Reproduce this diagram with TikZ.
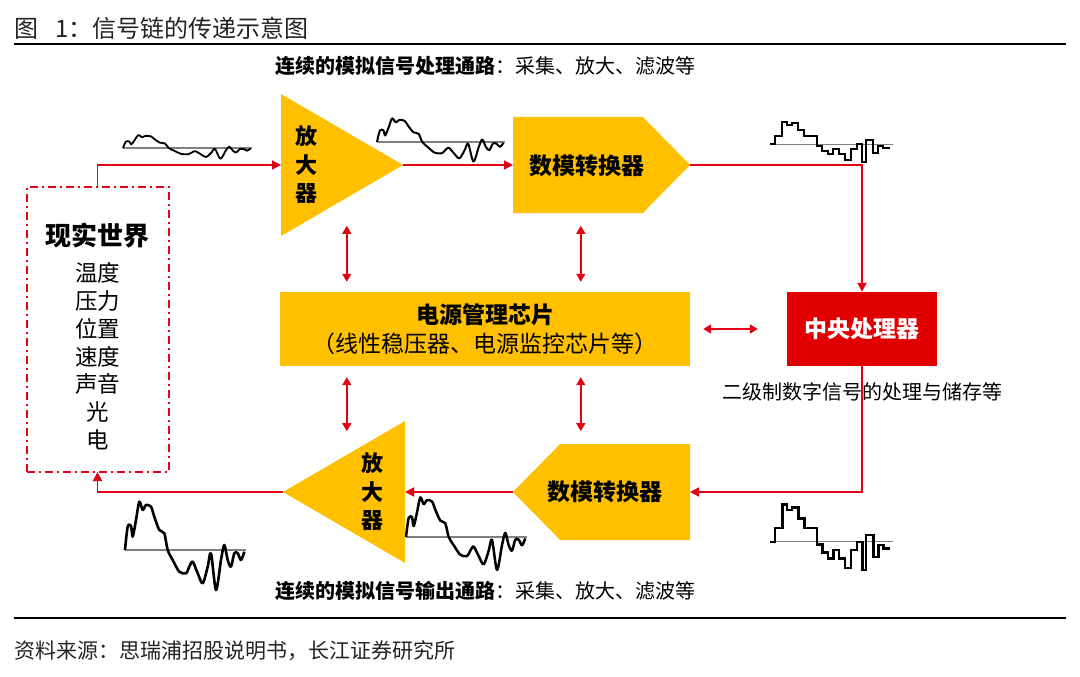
\documentclass[tikz,border=0pt]{standalone}
\usepackage{fontspec}
\setmainfont{Noto Sans CJK SC}
\usetikzlibrary{shapes.geometric, shapes.symbols, arrows.meta, positioning, calc}
\definecolor{ampgold}{RGB}{255, 192, 0}
\definecolor{cpured}{RGB}{224, 0, 0}
\definecolor{sigred}{RGB}{228, 0, 22}
\definecolor{inkgray}{RGB}{35, 35, 35}

\tikzset{
  amp/.style={isosceles triangle, isosceles triangle stretches, fill=ampgold,
    inner sep=0pt, outer sep=0pt, minimum width=142pt, minimum height=122pt},
  dac/.style={signal, fill=ampgold, inner sep=0pt, outer sep=0pt,
    minimum width=177pt, minimum height=96pt, signal pointer angle=91},
  blocktext/.style={font=\fontsize{23}{28}\selectfont\bfseries, inner sep=0pt, align=center},
  worldbox/.style={draw=sigred, line width=2pt, dash pattern=on 8pt off 4pt on 2pt off 4pt,
    inner sep=0pt, outer sep=0pt},
  sig/.style={draw=sigred, line width=1.8pt, -{Triangle[length=9pt,width=9pt]}},
  dbl/.style={draw=sigred, line width=1.5pt, {Triangle[length=8pt,width=9pt]}-{Triangle[length=8pt,width=9pt]}},
  wavebase/.style={line width=1.2pt, gray},
  note/.style={font=\fontsize{20}{24}\selectfont, inner sep=0pt},
}

% analog wave: x, baseline y, xscale, yscale, line width
\newcommand\anawave[5]{%
  \begin{scope}[shift={(#1,#2)}, xscale=#3, yscale=-#4]
    \draw[wavebase] (0,0) -- (121,0);
    \draw[line width=#5, line join=round] plot[smooth, tension=0.5] coordinates {
      (0,0) (2.7,23.3) (6,24) (7.7,13.3) (11,30) (14.3,48.3) (17.7,40) (21,45)
      (26,43.3) (29.3,33.3) (34.3,20) (39.3,16.7) (42.7,0) (47.7,-10) (54.3,-21.7)
      (61,-23.3) (64.3,-16.7) (67.7,-11.7) (72.7,-23.3) (77.7,-33.3) (82.7,-16.7)
      (86,-3.3) (91,-40) (96,-10) (99.3,5) (102.7,-10) (106,-16.7) (109.3,-3.3)
      (112.7,-3.3) (116,-10) (119.3,-1.7)};
  \end{scope}}

% sampled (stair) wave: x, baseline y, yscale, line width
\newcommand\stepwave[4]{%
  \begin{scope}[shift={(#1,#2)}, yscale=-#3]
    \draw[wavebase] (0,0) -- (123,0);
    \draw[line width=#4, line join=miter] plot coordinates {
      (0,0) (5,0) (5,14) (12.3,14) (12.3,37.3) (16.7,37.3) (16.7,31.7) (21.7,31.7)
      (21.7,34.3) (28.3,34.3) (28.3,23.3) (34.3,23.3) (34.3,14) (46.7,14) (46.7,-2.7)
      (52.3,-2.7) (52.3,-10.7) (57.7,-10.7) (57.7,-16.7) (63.3,-16.7) (63.3,-8.3)
      (69,-8.3) (69,-16.7) (75,-16.7) (75,-26) (81,-26) (81,-8.3) (86.7,-8.3)
      (86.7,0) (92.3,0) (92.3,-28.3) (96,-28.3) (96,6.7) (103.3,6.7) (103.3,-15)
      (108.3,-15) (108.3,-3.3) (113.3,-3.3) (113.3,-6.7) (120,-6.7)};
  \end{scope}}

\begin{document}
\begin{tikzpicture}[x=1pt, y=-1pt]
  \useasboundingbox (0,0) rectangle (1080,677);

  % Title and rules
  \node[anchor=west, inner sep=0pt, text=inkgray, font=\fontsize{24}{28}\selectfont] (title)
    at (14,28) {图\hspace{17pt}1：信号链的传递示意图};
  \draw[line width=2.5pt] (14,44) -- (1066,44);
  \draw[line width=2.5pt] (14,618) -- (1066,618);
  \node[anchor=west, inner sep=0pt, text=inkgray, font=\fontsize{21}{25}\selectfont] (source)
    at (14,651) {资料来源：思瑞浦招股说明书，长江证券研究所};

  % Path captions
  \node[note, anchor=west] (inpath) at (275,66) {\textbf{连续的模拟信号处理通路}：采集、放大、滤波等};
  \node[note, anchor=west] (outpath) at (275,591) {\textbf{连续的模拟信号输出通路}：采集、放大、滤波等};

  % Real world
  \node[worldbox, minimum width=142pt, minimum height=285pt] (world) at (97.5,329.5) {};
  \node[anchor=north, align=center, inner sep=0pt, font=\fontsize{22.5}{27.8}\selectfont] (worldtxt)
    at (97.5,223) {{\fontsize{26}{30}\selectfont\bfseries 现实世界}\\[8pt]温度\\压力\\位置\\速度\\声音\\光\\电};

  % Input chain
  \node[amp, anchor=lower side] (amp1) at (281,165) {};
  \node[blocktext, font=\fontsize{22}{28.5}\selectfont\bfseries] (amp1txt) at (306,165) {放\\大\\器};
  \node[dac, signal to=east, anchor=west] (dac1) at (513,165) {};
  \node[blocktext] (dac1txt) at (587,166) {数模转换器};

  % Power management and CPU
  \node[fill=ampgold, minimum width=410pt, minimum height=74pt, inner sep=0pt, align=center,
    font=\fontsize{23}{29}\selectfont] (power) at (485,329)
    {{\bfseries 电源管理芯片}\\（线性稳压器、电源监控芯片等）};
  \node[fill=cpured, minimum width=150pt, minimum height=74pt, inner sep=0pt, text=white,
    font=\fontsize{23}{28}\selectfont\bfseries] (cpu) at (862,329) {中央处理器};

  % Output chain
  \node[dac, signal to=west, anchor=east] (dac2) at (690,492) {};
  \node[blocktext] (dac2txt) at (605,492) {数模转换器};
  \node[amp, shape border rotate=180, anchor=lower side] (amp2) at (405,492) {};
  \node[blocktext, font=\fontsize{22}{28.5}\selectfont\bfseries] (amp2txt) at (372,492) {放\\大\\器};

  % Signal flow
  \draw[sig] (world.north) |- (amp1.lower side);
  \draw[sig] (amp1.apex) -- (dac1.west);
  \draw[sig] (dac1.east) -| (cpu.north);
  \draw[sig] (cpu.south) |- (dac2.east);
  \draw[sig] (dac2.west) -- (amp2.lower side);
  \draw[sig] (amp2.apex) -| (world.south);

  % Power supply links
  \foreach \dx in {67,301} {
    \draw[dbl] ($(power.north west)+(\dx,-10)$) -- ($(power.north west)+(\dx,-66)$);
    \draw[dbl] ($(power.south west)+(\dx,11)$) -- ($(power.south west)+(\dx,65)$);
  }
  \draw[dbl] ($(power.east)+(13,0)$) -- ($(cpu.west)+(-29,0)$);

  \node[note] (cpunote) at (862,392) {二级制数字信号的处理与储存等};

  % Waveforms
  \anawave{123}{148}{1.07}{0.27}{1.8pt}
  \anawave{377}{142}{1.06}{0.49}{2pt}
  \anawave{125}{550}{1}{1}{2.6pt}
  \anawave{406}{537}{1}{0.82}{2.5pt}
  \stepwave{770}{144.3}{0.61}{2pt}
  \stepwave{770}{541.7}{1}{2.4pt}
\end{tikzpicture}
\end{document}
